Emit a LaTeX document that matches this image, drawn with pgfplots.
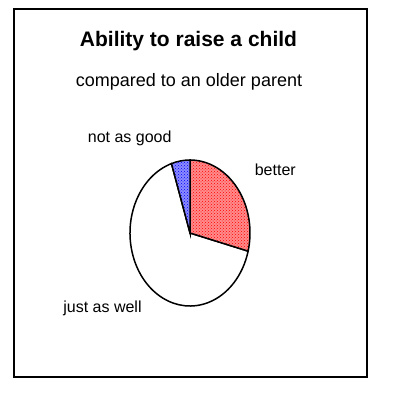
\documentclass[border=0pt]{standalone}
\usepackage{pgfplots}
\pgfplotsset{compat=1.18}
\usepackage{fontspec}
\setmainfont{Liberation Sans}
\usetikzlibrary{patterns}
\begin{document}
\begin{tikzpicture}
% slice values (percent)
\def\vbetter{29}
\def\vnotgood{5}
\def\vwell{66}
\begin{axis}[
  width=393pt, height=413pt, scale only axis,
  xmin=0, xmax=393, ymin=0, ymax=413,
  hide axis, clip=false,
]
\pgfmathsetmacro{\aA}{90}
\pgfmathsetmacro{\aB}{90-3.6*\vbetter}
\pgfmathsetmacro{\aC}{90+3.6*\vnotgood}
\pgfmathsetmacro{\aD}{\aB+360}
\path (axis cs:0,0) rectangle (axis cs:393,413);
% frame
\draw[line width=2pt] (axis cs:14,36) rectangle (axis cs:367,404);
% just as well
\draw[line width=1.5pt, fill=white] (axis cs:190,180) -- ++(\aC:60pt and 73pt) arc[start angle=\aC, end angle=\aD, x radius=60pt, y radius=73pt] -- cycle;
% better
\fill[red!45] (axis cs:190,180) -- ++(\aA:60pt and 73pt) arc[start angle=\aA, end angle=\aB, x radius=60pt, y radius=73pt] -- cycle;
\draw[line width=1.5pt, pattern=crosshatch dots, pattern color=red] (axis cs:190,180) -- ++(\aA:60pt and 73pt) arc[start angle=\aA, end angle=\aB, x radius=60pt, y radius=73pt] -- cycle;
% not as good
\fill[blue!45] (axis cs:190,180) -- ++(\aA:60pt and 73pt) arc[start angle=\aA, end angle=\aC, x radius=60pt, y radius=73pt] -- cycle;
\draw[line width=1.5pt, pattern=crosshatch dots, pattern color=blue] (axis cs:190,180) -- ++(\aA:60pt and 73pt) arc[start angle=\aA, end angle=\aC, x radius=60pt, y radius=73pt] -- cycle;
% texts
\node[anchor=base, font=\fontsize{21}{24}\selectfont\bfseries] at (axis cs:188.5,366) {Ability to raise a child};
\node[anchor=base, font=\fontsize{18}{21}\selectfont] at (axis cs:189,326.3) {compared to an older parent};
\node[anchor=base, font=\fontsize{16}{19}\selectfont] at (axis cs:129.7,270) {not as good};
\node[anchor=base, font=\fontsize{16}{19}\selectfont] at (axis cs:275.3,237.3) {better};
\node[anchor=base, font=\fontsize{16}{19}\selectfont] at (axis cs:102.5,100.6) {just as well};
\end{axis}
\end{tikzpicture}
\end{document}
